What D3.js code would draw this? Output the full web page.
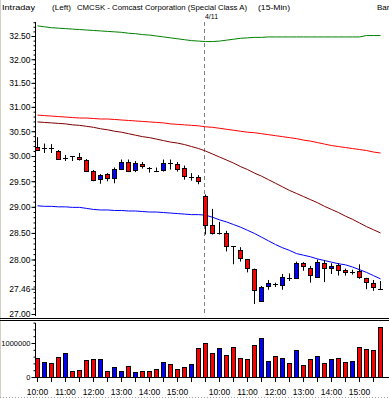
<!DOCTYPE html>
<html>
<head>
<meta charset="utf-8">
<script src="https://cdn.jsdelivr.net/npm/d3@7"></script>
<style>
body { margin: 0; background: #fff; }
text { font-family: "Liberation Sans", Arial, sans-serif; font-size: 8.5px; fill: #000; }
</style>
</head>
<body>
<div id="chart"></div>
<script>
// bar times (15-min), 4/10 from 10:00 and 4/11 from 09:30
var times = ["10:00","10:15","10:30","10:45","11:00","11:15","11:30","11:45","12:00","12:15","12:30","12:45",
  "13:00","13:15","13:30","13:45","14:00","14:15","14:30","14:45","15:00","15:15","15:30","15:45",
  "09:30","09:45","10:00","10:15","10:30","10:45","11:00","11:15","11:30","11:45","12:00","12:15","12:30","12:45",
  "13:00","13:15","13:30","13:45","14:00","14:15","14:30","14:45","15:00","15:15","15:30","15:45"];
var dayStart = 24; // first bar of 4/11

var opens  = [30.18,30.17,30.16,30.10,29.97,30.00,29.98,29.92,29.70,29.54,29.64,29.57,29.74,29.89,29.73,29.85,29.77,29.71,29.73,29.86,29.85,29.77,29.59,29.58,
  29.22,28.66,28.50,28.50,28.25,28.18,28.00,27.82,27.24,27.50,27.54,27.53,27.66,27.65,27.94,27.85,27.68,27.94,27.84,27.90,27.80,27.77,27.78,27.65,27.56,27.46];
var highs  = [30.38,30.25,30.24,30.12,30.02,30.00,30.06,29.94,29.72,29.64,29.66,29.77,29.93,29.93,29.90,29.88,29.78,29.77,29.93,29.93,29.88,29.81,29.66,29.62,
  29.24,28.96,28.71,28.54,28.25,28.23,28.01,27.83,27.51,27.62,27.57,27.73,27.74,27.96,27.95,27.88,28.00,27.99,27.93,27.93,27.83,27.81,27.91,27.66,27.62,27.60];
var lows   = [30.10,30.06,30.06,29.92,29.90,29.90,29.91,29.68,29.50,29.45,29.50,29.46,29.72,29.68,29.68,29.75,29.67,29.68,29.69,29.73,29.69,29.53,29.51,29.44,
  28.47,28.47,28.47,28.15,27.91,27.96,27.76,27.18,27.23,27.44,27.49,27.44,27.60,27.64,27.79,27.57,27.67,27.58,27.73,27.70,27.70,27.72,27.64,27.45,27.42,27.44];
var closes = [30.13,30.17,30.16,29.95,29.97,30.00,29.94,29.70,29.53,29.63,29.57,29.74,29.89,29.71,29.86,29.80,29.77,29.71,29.87,29.86,29.74,29.61,29.59,29.50,
  28.66,28.49,28.50,28.26,28.25,28.02,27.84,27.44,27.49,27.57,27.54,27.67,27.66,27.94,27.88,27.72,27.96,27.84,27.87,27.81,27.76,27.77,27.67,27.58,27.49,27.46];

var volumes = [570000,440000,410000,600000,700000,190000,220000,490000,520000,520000,170000,280000,170000,310000,140000,170000,170000,250000,440000,370000,250000,280000,380000,840000,
  1010000,720000,840000,660000,890000,570000,540000,950000,1160000,460000,630000,570000,400000,780000,340000,520000,630000,400000,520000,560000,430000,460000,870000,810000,800000,1480000];
var volDir = ["d","u","d","d","u","d","d","d","d","u","d","u","u","d","u","d","d","d","u","d","d","d","u","d",
  "d","d","u","d","d","d","d","d","u","u","d","u","d","u","d","d","u","d","u","d","d","u","d","d","d","d"];

// overlay averages
var maGreen = [32.72,32.70,32.68,32.67,32.66,32.65,32.64,32.63,32.62,32.61,32.60,32.59,32.58,32.56,32.55,32.53,32.52,32.50,32.48,32.46,32.44,32.42,32.40,32.39,
  32.38,32.38,32.39,32.41,32.43,32.45,32.46,32.47,32.47,32.48,32.48,32.48,32.48,32.48,32.48,32.48,32.48,32.48,32.48,32.48,32.48,32.48,32.48,32.51,32.51,32.51];
var maRed = [30.83,30.82,30.81,30.80,30.79,30.78,30.77,30.77,30.76,30.75,30.75,30.74,30.73,30.72,30.71,30.70,30.69,30.68,30.67,30.65,30.64,30.63,30.62,30.61,
  30.59,30.58,30.56,30.54,30.52,30.50,30.48,30.47,30.45,30.43,30.41,30.39,30.37,30.35,30.32,30.30,30.27,30.24,30.21,30.19,30.17,30.15,30.13,30.11,30.08,30.06];
var maDark = [30.69,30.68,30.67,30.66,30.65,30.63,30.62,30.60,30.58,30.55,30.53,30.50,30.48,30.45,30.42,30.39,30.37,30.34,30.31,30.28,30.26,30.23,30.19,30.15,
  30.10,30.04,29.98,29.92,29.86,29.79,29.73,29.66,29.60,29.53,29.46,29.39,29.32,29.26,29.20,29.14,29.08,29.01,28.95,28.89,28.82,28.76,28.69,28.62,28.56,28.50];
var maBlue = [29.02,29.01,29.01,29.00,29.00,28.99,28.99,28.97,28.95,28.94,28.94,28.93,28.93,28.92,28.92,28.91,28.90,28.90,28.89,28.88,28.87,28.86,28.85,28.85,
  28.84,28.80,28.75,28.71,28.66,28.61,28.55,28.49,28.42,28.35,28.28,28.22,28.17,28.11,28.08,28.05,28.01,27.98,27.95,27.92,27.90,27.86,27.81,27.76,27.70,27.64];

var priceTicks = [27.00, 28.00, 28.50, 29.00, 29.50, 30.00, 30.50, 31.00, 31.50, 32.00, 32.50];
var lastPrice = 27.46;

var svgWidth = 389;
var svgHeight = 398;

var svg = d3.select("#chart")
    .append("svg")
    .attr("width", svgWidth)
    .attr("height", svgHeight);

// scales
var x = d3.scaleLinear().domain([0, times.length - 1]).range([37, 380]);
var y = d3.scaleLog().domain([27, 32.5]).range([314, 36]);
var yVol = d3.scaleLinear().domain([0, 1000000]).range([377, 343]);

var priceTop = 22, priceBottom = 316;
var volTop = 323, volBottom = 377;

// window edges
svg.append("line").attr("x1", 0.5).attr("x2", 0.5).attr("y1", 0).attr("y2", svgHeight)
    .attr("stroke", "#d4d0c8");
svg.append("line").attr("x1", 0).attr("x2", svgWidth).attr("y1", 397.5).attr("y2", 397.5)
    .attr("stroke", "#a0a0a0").attr("stroke-dasharray", "1,2");

// header (widths fitted to the reference)
function headText(tx, ty, str, w) {
    var t = svg.append("text").attr("x", tx).attr("y", ty).style("font-size", "8px").text(str);
    if (w) t.attr("textLength", w).attr("lengthAdjust", "spacingAndGlyphs");
    return t;
}
headText(2, 10, "Intraday", 33);
headText(52, 10, "(Left)", 19);
headText(77, 10, "CMCSK - Comcast Corporation (Special Class A)", 170);
headText(258, 10, "(15-Min)", 32);
headText(377, 10, "Bar");
headText(Math.round(x(dayStart)), 19, "4/11", 13);

// day separator
svg.append("line")
    .attr("x1", Math.round(x(dayStart)) - 0.5).attr("x2", Math.round(x(dayStart)) - 0.5)
    .attr("y1", priceTop).attr("y2", priceBottom)
    .attr("stroke", "#808080").attr("stroke-dasharray", "4,3");

// price axis
var minorVals = d3.range(270, 329).map(d => d / 10);
svg.append("g")
    .attr("transform", "translate(35.5,0)")
    .call(d3.axisLeft(y).tickValues(minorVals).tickSize(2).tickFormat(""))
    .call(g => g.select(".domain").remove());
var yAxis = svg.append("g")
    .attr("transform", "translate(35.5,0)")
    .call(d3.axisLeft(y).tickValues(priceTicks.concat([lastPrice])).tickSize(4).tickPadding(1).tickFormat(d3.format(".2f")))
    .call(g => g.select(".domain").remove());
yAxis.selectAll("text").attr("font-size", null).attr("font-family", null).attr("dy", "0.34em");
svg.append("line").attr("x1", 35.5).attr("x2", 35.5).attr("y1", priceTop).attr("y2", priceBottom).attr("stroke", "#000");

// moving averages
var line = d3.line().x((d, i) => x(i) + 0.5).y(d => y(d));
[[maGreen, "#008000"], [maRed, "#ff0000"], [maDark, "#800000"], [maBlue, "#0000ff"]].forEach(function(s) {
    svg.append("path").datum(s[0])
        .attr("d", line)
        .attr("fill", "none")
        .attr("stroke", s[1])
        .attr("stroke-width", 1);
});

// candles
var bars = d3.range(times.length);
var candle = svg.append("g").selectAll("g")
    .data(bars)
    .enter()
    .append("g");
candle.append("line")
    .attr("x1", i => Math.round(x(i)) + 0.5)
    .attr("x2", i => Math.round(x(i)) + 0.5)
    .attr("y1", i => y(highs[i]))
    .attr("y2", i => y(lows[i]))
    .attr("stroke", "#000");
candle.filter(i => Math.abs(closes[i] - opens[i]) >= 0.005)
    .append("rect")
    .attr("x", i => Math.round(x(i)) - 1.5)
    .attr("width", 4)
    .attr("y", i => Math.round(y(Math.max(opens[i], closes[i]))) + 0.5)
    .attr("height", i => Math.max(1, Math.round(y(Math.min(opens[i], closes[i]))) - Math.round(y(Math.max(opens[i], closes[i])))))
    .attr("fill", i => closes[i] > opens[i] ? "#0000ff" : "#ff0000")
    .attr("stroke", "#000");
candle.filter(i => Math.abs(closes[i] - opens[i]) < 0.005)
    .append("line")
    .attr("x1", i => Math.round(x(i)) - 2)
    .attr("x2", i => Math.round(x(i)) + 3)
    .attr("y1", i => Math.round(y(closes[i])) + 0.5)
    .attr("y2", i => Math.round(y(closes[i])) + 0.5)
    .attr("stroke", "#000");

// panel separator
svg.append("line").attr("x1", 0).attr("x2", svgWidth).attr("y1", 318.5).attr("y2", 318.5).attr("stroke", "#000");
svg.append("line").attr("x1", 0).attr("x2", svgWidth).attr("y1", 320.5).attr("y2", 320.5).attr("stroke", "#000");

// volume bars
svg.append("g").selectAll("rect")
    .data(bars)
    .enter()
    .append("rect")
    .attr("x", i => Math.round(x(i)) - 1.5)
    .attr("width", 4)
    .attr("y", i => Math.round(yVol(volumes[i])) + 0.5)
    .attr("height", i => volBottom - Math.round(yVol(volumes[i])))
    .attr("fill", i => volDir[i] === "u" ? "#0000ff" : "#ff0000")
    .attr("stroke", "#000");

// volume axis
svg.append("g")
    .attr("transform", "translate(35.5,0)")
    .call(d3.axisLeft(yVol).tickValues(d3.range(0, 1600001, 200000)).tickSize(2).tickFormat(""))
    .call(g => g.select(".domain").remove());
var vAxis = svg.append("g")
    .attr("transform", "translate(35.5,0)")
    .call(d3.axisLeft(yVol).tickValues([0, 1000000]).tickSize(4).tickPadding(1).tickFormat(d3.format("d")))
    .call(g => g.select(".domain").remove());
vAxis.selectAll("text").attr("font-size", null).attr("font-family", null).style("font-size", "7.5px");
svg.append("line").attr("x1", 35.5).attr("x2", 35.5).attr("y1", volTop).attr("y2", volBottom + 0.5).attr("stroke", "#000");

// time axis
var halfHours = bars.filter(i => times[i].slice(3) === "00" || times[i].slice(3) === "30");
svg.append("line").attr("x1", 35).attr("x2", svgWidth).attr("y1", volBottom + 0.5).attr("y2", volBottom + 0.5).attr("stroke", "#000");
svg.append("g").selectAll("line")
    .data(halfHours)
    .enter()
    .append("line")
    .attr("x1", i => Math.round(x(i)) + 0.5)
    .attr("x2", i => Math.round(x(i)) + 0.5)
    .attr("y1", volBottom)
    .attr("y2", volBottom + 5)
    .attr("stroke", "#000");
svg.append("g").selectAll("text")
    .data(halfHours.filter(i => times[i].slice(3) === "00"))
    .enter()
    .append("text")
    .attr("x", i => Math.round(x(i)) + 0.5)
    .attr("y", 395)
    .attr("text-anchor", "middle")
    .text(i => times[i]);
</script>
</body>
</html>
